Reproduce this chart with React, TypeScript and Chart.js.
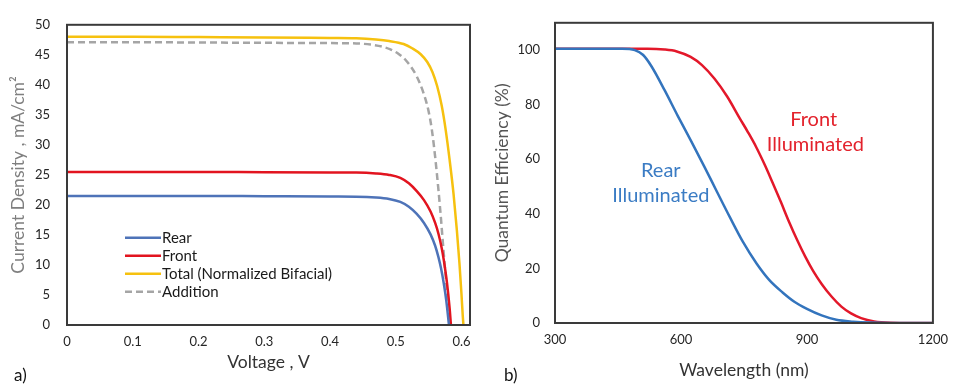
import React, { useEffect, useRef } from "react";
import { Chart, registerables } from "chart.js";

Chart.register(...registerables);

// ---------- Panel a) I-V curves ----------
const rearV = [0, 0.1, 0.2, 0.3, 0.4, 0.44, 0.47, 0.49, 0.507, 0.52, 0.532, 0.543, 0.553, 0.56, 0.565, 0.569, 0.573, 0.577, 0.581];
const rearJ = [21.5, 21.5, 21.5, 21.45, 21.4, 21.38, 21.25, 21.0, 20.5, 19.7, 18.5, 17.0, 15.1, 13.2, 11.3, 9.4, 7.0, 4.0, 0];

const frontV = [0, 0.1, 0.2, 0.3, 0.4, 0.44, 0.47, 0.49, 0.507, 0.52, 0.532, 0.543, 0.553, 0.56, 0.565, 0.57, 0.573, 0.578, 0.582, 0.584];
const frontJ = [25.5, 25.5, 25.5, 25.45, 25.42, 25.4, 25.25, 25.0, 24.5, 23.6, 22.3, 20.8, 18.9, 17.0, 15.2, 12.8, 10.9, 7.0, 2.8, 0];

const totalV = [0, 0.1, 0.2, 0.3, 0.4, 0.44, 0.47, 0.49, 0.512, 0.525, 0.538, 0.548, 0.556, 0.563, 0.57, 0.576, 0.582, 0.588, 0.593, 0.597, 0.6, 0.602, 0.603];
const totalJ = [48, 48, 47.95, 47.9, 47.8, 47.75, 47.55, 47.3, 46.8, 46.1, 45.1, 43.8, 42.1, 39.8, 36.5, 32.5, 27.5, 21.8, 15.8, 10.2, 5.2, 1.5, 0];

const addV = [0, 0.1, 0.2, 0.3, 0.4, 0.44, 0.462, 0.48, 0.492, 0.505, 0.517, 0.532, 0.543, 0.55, 0.555, 0.56, 0.565, 0.569, 0.573, 0.577, 0.58, 0.582];
const addJ = [47.1, 47.1, 47.05, 47.0, 46.95, 46.9, 46.7, 46.35, 45.9, 45.1, 43.9, 41.4, 38.4, 35.6, 32.5, 28.0, 22.5, 17.5, 12.0, 6.8, 3.0, 0];

const ivLabels = ["Rear", "Front", "Total (Normalized Bifacial)", "Addition"];
const ivXTicks = [0, 0.1, 0.2, 0.3, 0.4, 0.5, 0.6];
const ivYTicks = [0, 5, 10, 15, 20, 25, 30, 35, 40, 45, 50];

// ---------- Panel b) Quantum efficiency ----------
const qeRearWl = [300, 460, 490, 510, 530, 561, 592, 623, 655, 686, 717, 748, 780, 810, 842, 870, 900, 935, 970, 1010, 1050, 1100, 1200];
const qeRear = [100.5, 100.5, 100, 98.2, 94, 85.3, 76, 67, 57.5, 48, 38.6, 29.6, 21.8, 15.8, 11.2, 7.8, 5.2, 2.8, 1.2, 0.5, 0.15, 0, 0];

const qeFrontWl = [300, 520, 561, 590, 623, 650, 680, 710, 740, 760, 779, 800, 818, 838, 857, 877, 896, 915, 935, 958, 982, 1005, 1029, 1060, 1100, 1150, 1200];
const qeFront = [100.5, 100.5, 100.2, 99.5, 97.5, 94.5, 89.5, 83, 75, 69.8, 64.5, 57.8, 51.5, 44.3, 37.2, 30.3, 24.3, 19, 14.3, 9.8, 6.0, 3.5, 1.8, 0.6, 0.1, 0, 0];

const qeXTicks = [300, 600, 900, 1200];
const qeYTicks = [0, 20, 40, 60, 80, 100];

const FONT = "Lato, 'Open Sans', sans-serif";

const zip = (xs: number[], ys: number[]) => xs.map((x, i) => ({ x, y: ys[i] }));

const boxPlugin = {
  id: "box",
  afterDatasetsDraw(chart: any) {
    const { ctx, chartArea } = chart;
    ctx.save();
    ctx.strokeStyle = "#3a3a3a";
    ctx.lineWidth = 2;
    ctx.strokeRect(chartArea.left, chartArea.top, chartArea.right - chartArea.left, chartArea.bottom - chartArea.top);
    ctx.restore();
  },
};

const ivLegendPlugin = {
  id: "ivLegend",
  afterDraw(chart: any) {
    const { ctx, chartArea } = chart;
    ctx.save();
    ctx.font = `15px ${FONT}`;
    ctx.textBaseline = "middle";
    ctx.textAlign = "left";
    chart.data.datasets.forEach((ds: any, i: number) => {
      const y = chartArea.top + 213 + i * 18;
      const x0 = chartArea.left + 58;
      ctx.strokeStyle = ds.borderColor;
      ctx.lineWidth = ds.borderWidth;
      ctx.setLineDash(ds.borderDash || []);
      ctx.beginPath();
      ctx.moveTo(x0, y);
      ctx.lineTo(x0 + 36, y);
      ctx.stroke();
      ctx.setLineDash([]);
      ctx.fillStyle = "#1a1a1a";
      ctx.fillText(ds.label, x0 + 37, y);
    });
    ctx.restore();
  },
};

const qeNotes = [
  { lines: ["Front", "Illuminated"], x: [916, 920], y: [74.5, 65.5], color: "#e3222c" },
  { lines: ["Rear", "Illuminated"], x: [552, 552], y: [55.8, 46.8], color: "#3b7cc4" },
];

const qeNotesPlugin = {
  id: "qeNotes",
  afterDraw(chart: any) {
    const { ctx, scales } = chart;
    ctx.save();
    ctx.font = `20px ${FONT}`;
    ctx.textAlign = "center";
    ctx.textBaseline = "middle";
    qeNotes.forEach((n) => {
      ctx.fillStyle = n.color;
      n.lines.forEach((t, i) => {
        ctx.fillText(t, scales.x.getPixelForValue(n.x[i]), scales.y.getPixelForValue(n.y[i]));
      });
    });
    ctx.restore();
  },
};

const tickFont = { family: FONT, size: 13 };
const titleFont = { family: FONT, size: 17.5 };
const plainTick = (v: any) => String(v);

export default function App() {
  const leftRef = useRef<HTMLCanvasElement>(null);
  const rightRef = useRef<HTMLCanvasElement>(null);

  useEffect(() => {
    const left = new Chart(leftRef.current!, {
      type: "line",
      data: {
        datasets: [
          { label: ivLabels[0], data: zip(rearV, rearJ), borderColor: "#4e73b8", borderWidth: 2.5 },
          { label: ivLabels[1], data: zip(frontV, frontJ), borderColor: "#e2141f", borderWidth: 2.5 },
          { label: ivLabels[2], data: zip(totalV, totalJ), borderColor: "#f6c10f", borderWidth: 2.5 },
          { label: ivLabels[3], data: zip(addV, addJ), borderColor: "#a5a5a5", borderWidth: 2.5, borderDash: [7, 4] },
        ].map((d) => ({ ...d, pointRadius: 0, cubicInterpolationMode: "monotone" as const, fill: false })),
      },
      options: {
        responsive: false,
        animation: false,
        events: [],
        layout: { padding: { top: 15, right: 10, left: 0, bottom: 0 } },
        plugins: { legend: { display: false }, tooltip: { enabled: false } },
        scales: {
          x: {
            type: "linear",
            min: 0,
            max: 0.613,
            afterBuildTicks: (s: any) => { s.ticks = ivXTicks.map((v) => ({ value: v })); },
            afterFit: (s: any) => { s.height = 62; },
            ticks: { padding: 9, color: "#262626", font: tickFont, maxRotation: 0, autoSkip: false, callback: plainTick },
            grid: { display: false, drawTicks: false },
            border: { display: false },
            title: { display: true, text: "Voltage , V", color: "#333", font: titleFont, padding: { top: 0, bottom: 14.5 } },
          },
          y: {
            type: "linear",
            min: 0,
            max: 50,
            afterBuildTicks: (s: any) => { s.ticks = ivYTicks.map((v) => ({ value: v })); },
            afterFit: (s: any) => { s.width = 67; },
            ticks: { padding: 17, color: "#262626", font: tickFont, autoSkip: false, callback: plainTick },
            grid: { display: false, drawTicks: false },
            border: { display: false },
            title: { display: true, text: "Current Density , mA/cm²", color: "#7f7f7f", font: titleFont, padding: { top: 7.5, bottom: 0 } },
          },
        },
      },
      plugins: [boxPlugin, ivLegendPlugin],
    });

    const right = new Chart(rightRef.current!, {
      type: "line",
      data: {
        datasets: [
          { label: "Rear Illuminated", data: zip(qeRearWl, qeRear), borderColor: "#3374bd", borderWidth: 2.5 },
          { label: "Front Illuminated", data: zip(qeFrontWl, qeFront), borderColor: "#e3182a", borderWidth: 2.5 },
        ].map((d) => ({ ...d, pointRadius: 0, cubicInterpolationMode: "monotone" as const, fill: false })),
      },
      options: {
        responsive: false,
        animation: false,
        events: [],
        layout: { padding: { top: 17, right: 17, left: 0, bottom: 0 } },
        plugins: { legend: { display: false }, tooltip: { enabled: false } },
        scales: {
          x: {
            type: "linear",
            min: 300,
            max: 1200,
            afterBuildTicks: (s: any) => { s.ticks = qeXTicks.map((v) => ({ value: v })); },
            afterFit: (s: any) => { s.height = 64; },
            ticks: { padding: 9, color: "#262626", font: tickFont, maxRotation: 0, autoSkip: false, callback: plainTick },
            grid: { display: false, drawTicks: false },
            border: { display: false },
            title: { display: true, text: "Wavelength (nm)", color: "#333", font: titleFont, padding: { top: 0, bottom: 6.5 } },
          },
          y: {
            type: "linear",
            min: 0,
            max: 110,
            afterBuildTicks: (s: any) => { s.ticks = qeYTicks.map((v) => ({ value: v })); },
            afterFit: (s: any) => { s.width = 75; },
            ticks: { padding: 15, color: "#262626", font: tickFont, autoSkip: false, callback: plainTick },
            grid: { display: false, drawTicks: false },
            border: { display: false },
            title: { display: true, text: "Quantum Efficiency (%)", color: "#555", font: titleFont, padding: { top: 11.5, bottom: 0 } },
          },
        },
      },
      plugins: [boxPlugin, qeNotesPlugin],
    });

    return () => {
      left.destroy();
      right.destroy();
    };
  }, []);

  const panelLabel: React.CSSProperties = {
    position: "absolute",
    fontFamily: FONT,
    fontSize: 17,
    color: "#111",
    lineHeight: "18px",
  };

  return (
    <div style={{ position: "absolute", left: 0, top: 0, width: 957, height: 387, background: "#fff", overflow: "hidden" }}>
      <canvas ref={leftRef} width={480} height={387} style={{ position: "absolute", left: 0, top: 0, width: 480, height: 387 }} />
      <canvas ref={rightRef} width={477} height={387} style={{ position: "absolute", left: 480, top: 0, width: 477, height: 387 }} />
      <span style={{ ...panelLabel, left: 14, top: 366 }}>a)</span>
      <span style={{ ...panelLabel, left: 504, top: 366 }}>b)</span>
    </div>
  );
}
